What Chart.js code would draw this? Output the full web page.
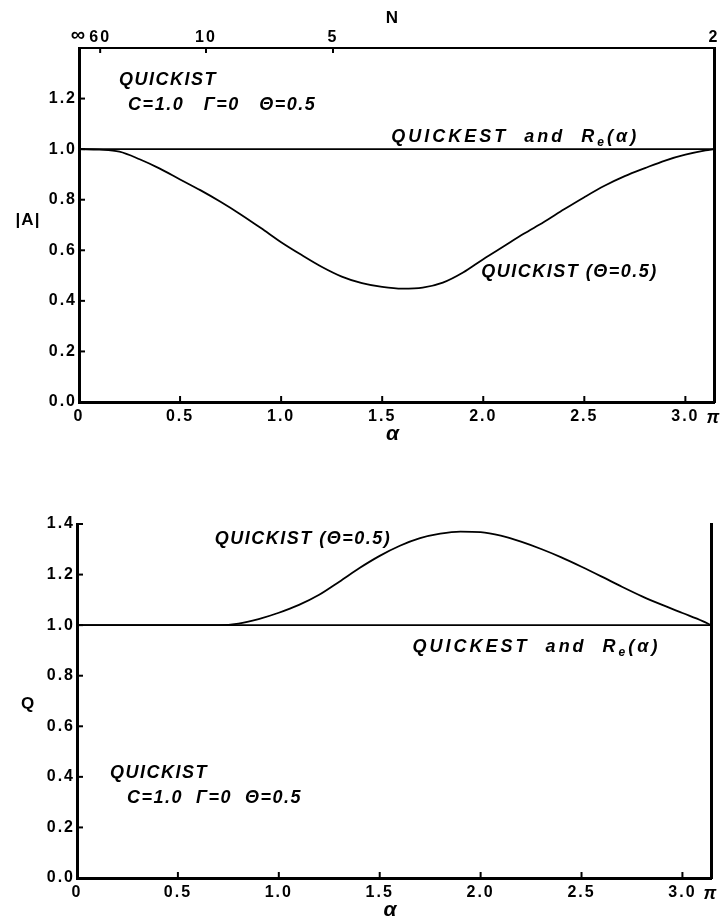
<!DOCTYPE html>
<html>
<head>
<meta charset="utf-8">
<script src="https://cdn.jsdelivr.net/npm/chart.js@4.4.1/dist/chart.umd.min.js"></script>
<style>
  html, body { margin: 0; padding: 0; background: #fff; }
  .panel { position: absolute; left: 0; width: 722px; }
  #ampBox { top: 0; height: 460px; }
  #qBox { top: 460px; height: 461px; }
</style>
</head>
<body>
<div class="panel" id="ampBox"><canvas id="ampChart"></canvas></div>
<div class="panel" id="qBox"><canvas id="qChart"></canvas></div>
<script>
// wave number alpha, 0 .. pi
const alpha = [0, 0.1, 0.2, 0.3, 0.4, 0.5, 0.6, 0.7, 0.8, 0.9, 1.0, 1.1, 1.2, 1.3, 1.4, 1.5,
               1.6, 1.7, 1.8, 1.9, 2.0, 2.1, 2.2, 2.3, 2.4, 2.5, 2.6, 2.7, 2.8, 2.9, 3.0, 3.1, Math.PI];

// amplitude ratio |A| for QUICKIST (theta = 0.5)
const ampQuickist = [1.000, 0.998, 0.990, 0.960, 0.923, 0.880, 0.838, 0.792, 0.742, 0.688, 0.632,
                     0.582, 0.535, 0.496, 0.470, 0.455, 0.448, 0.452, 0.472, 0.512, 0.565, 0.615,
                     0.665, 0.712, 0.762, 0.810, 0.855, 0.893, 0.925, 0.955, 0.978, 0.995, 1.000];

// phase ratio Q for QUICKIST (theta = 0.5)
const qQuickist = [1.000, 1.000, 1.000, 1.000, 1.000, 1.000, 1.000, 1.000, 1.006, 1.024, 1.049,
                   1.080, 1.120, 1.172, 1.226, 1.274, 1.314, 1.344, 1.362, 1.370, 1.368, 1.354,
                   1.330, 1.301, 1.268, 1.231, 1.192, 1.152, 1.114, 1.080, 1.048, 1.016, 1.000];

// QUICKEST and the exact solution are 1 everywhere
const exactAlpha = [0, Math.PI];
const exactValue = [1, 1];

const alphaTicks = [0, 0.5, 1.0, 1.5, 2.0, 2.5, 3.0, Math.PI];
const nTicks = [Infinity, 60, 10, 5, 2];
const yTicks = [0, 0.2, 0.4, 0.6, 0.8, 1.0, 1.2, 1.4];

const FONT = '"Liberation Sans", Arial, sans-serif';

function points(xs, ys) {
  return xs.map((x, i) => ({ x: x, y: ys[i] }));
}

// short tick marks pointing into the plot
const inwardTicks = {
  id: 'inwardTicks',
  afterDatasetsDraw(chart, args, opts) {
    const ctx = chart.ctx;
    const a = chart.chartArea;
    ctx.save();
    ctx.strokeStyle = '#000';
    ctx.lineWidth = 2;
    for (const id of Object.keys(opts)) {
      const s = chart.scales[id];
      const len = opts[id];
      for (const t of s.ticks) {
        const p = s.getPixelForValue(t.value);
        ctx.beginPath();
        if (s.position === 'left') { ctx.moveTo(a.left, p); ctx.lineTo(a.left + len, p); }
        else if (s.position === 'bottom') { ctx.moveTo(p, a.bottom); ctx.lineTo(p, a.bottom - len); }
        else if (s.position === 'top') { ctx.moveTo(p, a.top); ctx.lineTo(p, a.top + len); }
        ctx.stroke();
      }
    }
    ctx.restore();
  }
};

// curve labels and axis titles
function drawRuns(ctx, x, y, runs, size) {
  let cx = x;
  for (const r of runs) {
    const sub = typeof r === 'object';
    const text = sub ? r.sub : r;
    ctx.font = 'italic bold ' + (sub ? Math.round(size * 0.68) : size) + 'px ' + FONT;
    ctx.fillText(text, cx, sub ? y + size * 0.22 : y);
    cx += ctx.measureText(text).width;
  }
}

const notes = {
  id: 'notes',
  beforeDraw(chart) {
    chart.ctx.letterSpacing = '2px';
  },
  afterDraw(chart, args, opts) {
    const ctx = chart.ctx;
    const a = chart.chartArea;
    const xs = chart.scales.x, ys = chart.scales.y;
    ctx.save();
    ctx.fillStyle = '#000';
    ctx.textAlign = 'left';
    ctx.textBaseline = 'alphabetic';
    for (const n of opts.items) {
      ctx.letterSpacing = n.spacing + 'px';
      drawRuns(ctx, xs.getPixelForValue(n.at[0]), ys.getPixelForValue(n.at[1]), n.runs, 18);
    }
    ctx.textAlign = 'center';
    ctx.textBaseline = 'middle';
    ctx.letterSpacing = '1px';
    ctx.font = 'bold 17px ' + FONT;
    ctx.fillText(opts.yTitle, a.left - opts.yTitleGap, (a.top + a.bottom) / 2 + opts.yTitleShift);
    if (opts.topTitle) ctx.fillText(opts.topTitle, (a.left + a.right) / 2 - 4, 18);
    ctx.font = 'italic bold 21px ' + FONT;
    ctx.letterSpacing = '0px';
    ctx.fillText('α', (a.left + a.right) / 2 - 4, a.bottom + 32);
    ctx.restore();
  }
};

function alphaAxis(height) {
  return {
    type: 'linear', position: 'bottom', min: 0, max: Math.PI,
    afterBuildTicks: s => { s.ticks = alphaTicks.map(v => ({ value: v })); },
    afterFit: s => { s.height = height; s.paddingLeft = 0; s.paddingRight = 0; },
    grid: { drawOnChartArea: false, drawTicks: false },
    border: { display: true, width: 3, color: '#000' },
    ticks: {
      autoSkip: false, maxRotation: 0, padding: 5, color: '#000',
      font: c => (c.tick && c.tick.value === Math.PI)
        ? { family: FONT, size: 18, weight: 'bold', style: 'italic' }
        : { family: FONT, size: 16, weight: 'bold' },
      callback: v => v === Math.PI ? 'π' : (v === 0 ? '0' : v.toFixed(1))
    }
  };
}

function valueAxis(width, labelled) {
  return {
    type: 'linear', position: 'left', min: 0, max: 1.4,
    afterBuildTicks: s => { s.ticks = labelled.map(v => ({ value: v })); },
    afterFit: s => { s.width = width; s.paddingTop = 0; s.paddingBottom = 0; },
    grid: { drawOnChartArea: false, drawTicks: false },
    border: { display: true, width: 3, color: '#000' },
    ticks: {
      padding: 2, color: '#000',
      font: { family: FONT, size: 16, weight: 'bold' },
      callback: v => v.toFixed(1)
    }
  };
}

function rightEdge() {
  return {
    type: 'linear', position: 'right', min: 0, max: 1.4,
    afterFit: s => { s.width = 0; },
    grid: { drawOnChartArea: false, drawTicks: false },
    border: { display: true, width: 3, color: '#000' },
    ticks: { display: false }
  };
}

function lineSets(curve) {
  return [
    {
      data: points(alpha, curve),
      borderColor: '#000', borderWidth: 1.8, pointRadius: 0,
      cubicInterpolationMode: 'monotone'
    },
    {
      data: points(exactAlpha, exactValue),
      borderColor: '#000', borderWidth: 1.8, pointRadius: 0
    }
  ];
}

const common = {
  responsive: true,
  maintainAspectRatio: false,
  animation: false,
  events: [],
  plugins: { legend: { display: false }, tooltip: { enabled: false } }
};

// |A| versus alpha, with the grid-point count N on top
new Chart(document.getElementById('ampChart'), {
  type: 'line',
  data: { datasets: lineSets(ampQuickist) },
  plugins: [inwardTicks, notes],
  options: {
    ...common,
    layout: { padding: { top: 0, left: 0, right: 8, bottom: 0 } },
    scales: {
      x: alphaAxis(58),
      xN: {
        type: 'linear', position: 'top', min: 0, max: Math.PI,
        afterBuildTicks: s => {
          s.ticks = nTicks.map(n => ({ value: n === Infinity ? 0 : 2 * Math.PI / n }));
        },
        afterFit: s => { s.height = 48; s.paddingLeft = 0; s.paddingRight = 0; },
        grid: { drawOnChartArea: false, drawTicks: false },
        border: { display: true, width: 2, color: '#000' },
        ticks: {
          autoSkip: false, maxRotation: 0, padding: 1, color: '#000',
          font: c => (c.index === 0)
            ? { family: FONT, size: 20, weight: 'bold' }
            : { family: FONT, size: 16, weight: 'bold' },
          callback: (v, i) => nTicks[i] === Infinity ? '∞' : String(nTicks[i])
        }
      },
      y: valueAxis(79, yTicks.slice(0, 7)),
      yR: rightEdge()
    },
    plugins: {
      ...common.plugins,
      inwardTicks: { x: 6, xN: 5, y: 6 },
      notes: {
        yTitle: '|A|', yTitleGap: 51, yTitleShift: -5, topTitle: 'N',
        items: [
          { at: [0.198, 1.253], spacing: 1.5, runs: ['QUICKIST'] },
          { at: [0.243, 1.155], spacing: 1.5, runs: ['C=1.0   Γ=0   Θ=0.5'] },
          { at: [1.545, 1.028], spacing: 3, runs: ['QUICKEST  and  R', { sub: 'e' }, '(α)'] },
          { at: [1.99, 0.494], spacing: 1.5, runs: ['QUICKIST (Θ=0.5)'] }
        ]
      }
    }
  }
});

// Q versus alpha
new Chart(document.getElementById('qChart'), {
  type: 'line',
  data: { datasets: lineSets(qQuickist) },
  plugins: [inwardTicks, notes],
  options: {
    ...common,
    layout: { padding: { top: 64, left: 0, right: 11, bottom: 0 } },
    scales: {
      x: alphaAxis(43),
      y: valueAxis(77, yTicks),
      yR: rightEdge()
    },
    plugins: {
      ...common.plugins,
      inwardTicks: { x: 6, y: 6 },
      notes: {
        yTitle: 'Q', yTitleGap: 49, yTitleShift: 3,
        items: [
          { at: [0.683, 1.319], spacing: 1.5, runs: ['QUICKIST (Θ=0.5)'] },
          { at: [1.663, 0.895], spacing: 3, runs: ['QUICKEST  and  R', { sub: 'e' }, '(α)'] },
          { at: [0.163, 0.396], spacing: 1.5, runs: ['QUICKIST'] },
          { at: [0.248, 0.297], spacing: 1.5, runs: ['C=1.0  Γ=0  Θ=0.5'] }
        ]
      }
    }
  }
});
</script>
</body>
</html>
